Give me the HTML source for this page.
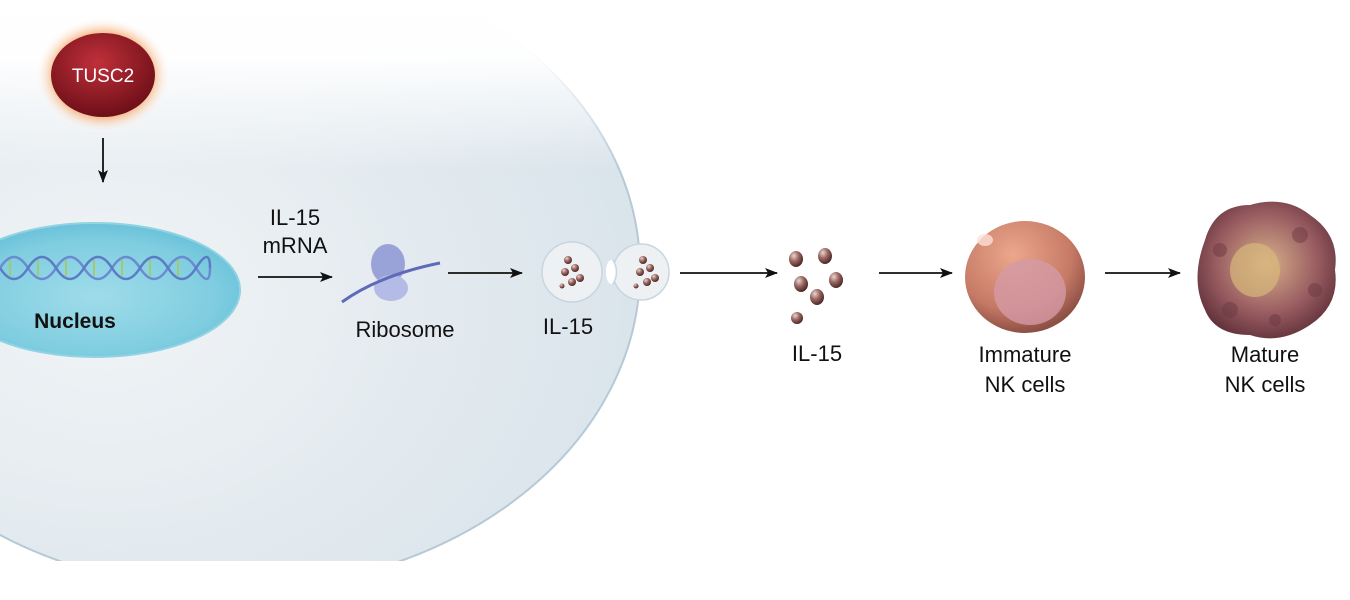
<!DOCTYPE html>
<html><head><meta charset="utf-8"><style>
html,body{margin:0;padding:0;background:#fff;width:1350px;height:600px;overflow:hidden}
svg{display:block}
text{font-family:"Liberation Sans",sans-serif;fill:#111}
</style></head><body>
<svg width="1350" height="600" viewBox="0 0 1350 600" xmlns="http://www.w3.org/2000/svg">
<defs>
<radialGradient id="cellg" cx="0.35" cy="0.55" r="0.7">
<stop offset="0" stop-color="#f1f4f6"/><stop offset="1" stop-color="#d8e3ea"/>
</radialGradient>
<linearGradient id="fade" x1="0" y1="0" x2="0" y2="1">
<stop offset="0" stop-color="#fff" stop-opacity="1"/><stop offset="0.35" stop-color="#fff" stop-opacity="0.95"/><stop offset="1" stop-color="#fff" stop-opacity="0"/>
</linearGradient>
<radialGradient id="nuc" cx="0.5" cy="0.55" r="0.6">
<stop offset="0" stop-color="#9fdcea"/><stop offset="0.7" stop-color="#7fcde0"/><stop offset="1" stop-color="#62bdd6"/>
</radialGradient>
<radialGradient id="glow" cx="0.5" cy="0.5" r="0.5">
<stop offset="0.55" stop-color="#f08a3c"/><stop offset="0.75" stop-color="#f7b07a" stop-opacity="0.7"/><stop offset="1" stop-color="#fff" stop-opacity="0"/>
</radialGradient>
<radialGradient id="tusc" cx="0.45" cy="0.35" r="0.65">
<stop offset="0" stop-color="#c0303a"/><stop offset="1" stop-color="#6e0f18"/>
</radialGradient>
<radialGradient id="imm" cx="0.4" cy="0.3" r="0.7">
<stop offset="0" stop-color="#eba78c"/><stop offset="0.7" stop-color="#c67a66"/><stop offset="1" stop-color="#8e4f45"/>
</radialGradient>
<radialGradient id="mat" cx="0.5" cy="0.45" r="0.6">
<stop offset="0" stop-color="#d8b08a"/><stop offset="0.6" stop-color="#9a5e62"/><stop offset="1" stop-color="#5e2e38"/>
</radialGradient>
<radialGradient id="pt" cx="0.35" cy="0.3" r="0.7">
<stop offset="0" stop-color="#e8d6d2"/><stop offset="0.5" stop-color="#9b6660"/><stop offset="1" stop-color="#4e2a28"/>
</radialGradient>
<marker id="ah" markerWidth="13" markerHeight="10" refX="12" refY="5" orient="auto" markerUnits="userSpaceOnUse">
<path d="M0,0 L13,5 L0,10 L3,5 Z" fill="#111"/>
</marker>
<clipPath id="cut"><rect x="0" y="0" width="1350" height="561"/></clipPath>
</defs>

<g clip-path="url(#cut)">
<ellipse cx="230" cy="270" rx="410" ry="320" fill="url(#cellg)" stroke="#b5c9d6" stroke-width="2"/>
</g>
<rect x="0" y="0" width="660" height="170" fill="url(#fade)"/>

<ellipse cx="103" cy="75" rx="68" ry="58" fill="url(#glow)"/>
<ellipse cx="103" cy="75" rx="52" ry="42" fill="url(#tusc)"/>
<text x="103" y="82" font-size="19" text-anchor="middle" style="fill:#fff">TUSC2</text>
<line x1="103" y1="138" x2="103" y2="182" stroke="#111" stroke-width="1.8" marker-end="url(#ah)"/>

<ellipse cx="95" cy="290" rx="145" ry="67" fill="url(#nuc)" stroke="#8fd3e4" stroke-width="2"/>
<g stroke="#6a8bd0" stroke-width="2.5" fill="none">
<path d="M0,268 q14,-22 28,0 t28,0 t28,0 t28,0 t28,0 t28,0 t28,0 t14,0"/>
<path d="M0,268 q14,22 28,0 t28,0 t28,0 t28,0 t28,0 t28,0 t28,0 t14,0" stroke="#5a7cc4"/>
</g>
<g stroke="#a8c84a" stroke-width="1.5">
<path d="M10,260v16M38,260v16M66,260v16M94,260v16M122,260v16M150,260v16M178,260v16"/>
</g>
<text x="75" y="328" font-size="21" font-weight="bold" text-anchor="middle">Nucleus</text>

<text x="295" y="225" font-size="22" text-anchor="middle">IL-15</text>
<text x="295" y="253" font-size="22" text-anchor="middle">mRNA</text>
<line x1="258" y1="277" x2="332" y2="277" stroke="#111" stroke-width="1.8" marker-end="url(#ah)"/>

<ellipse cx="388" cy="264" rx="17" ry="20" fill="#9aa3d8"/>
<ellipse cx="391" cy="288" rx="17" ry="13" fill="#b3bbe6"/>
<path d="M342,302 Q380,275 440,263" stroke="#5f6bb8" stroke-width="3" fill="none"/>
<text x="405" y="337" font-size="22" text-anchor="middle">Ribosome</text>
<line x1="448" y1="273" x2="522" y2="273" stroke="#111" stroke-width="1.8" marker-end="url(#ah)"/>

<circle cx="572" cy="272" r="30" fill="#eef1f3" stroke="#c8d6df" stroke-width="1.5"/>
<circle cx="641" cy="272" r="28" fill="#eef1f3" stroke="#c8d6df" stroke-width="1.5"/>
<ellipse cx="611" cy="272" rx="5" ry="12" fill="#fff"/>
<path d="M613,260 Q620,272 613,284" fill="none" stroke="#c8d6df" stroke-width="1.5"/>
<g fill="url(#pt)">
<circle cx="568" cy="260" r="4"/><circle cx="575" cy="268" r="4"/><circle cx="565" cy="272" r="4"/>
<circle cx="580" cy="278" r="4"/><circle cx="572" cy="282" r="4"/><circle cx="562" cy="286" r="2.5"/>
<circle cx="643" cy="260" r="4"/><circle cx="650" cy="268" r="4"/><circle cx="640" cy="272" r="4"/>
<circle cx="655" cy="278" r="4"/><circle cx="647" cy="282" r="4"/><circle cx="636" cy="286" r="2.5"/>
</g>
<text x="568" y="334" font-size="22" text-anchor="middle">IL-15</text>
<line x1="680" y1="273" x2="777" y2="273" stroke="#111" stroke-width="1.8" marker-end="url(#ah)"/>

<g fill="url(#pt)">
<ellipse cx="796" cy="259" rx="7" ry="8"/><ellipse cx="825" cy="256" rx="7" ry="8"/>
<ellipse cx="801" cy="284" rx="7" ry="8"/><ellipse cx="836" cy="280" rx="7" ry="8"/>
<ellipse cx="817" cy="297" rx="7" ry="8"/><ellipse cx="797" cy="318" rx="6" ry="6"/>
</g>
<text x="817" y="361" font-size="22" text-anchor="middle">IL-15</text>
<line x1="879" y1="273" x2="952" y2="273" stroke="#111" stroke-width="1.8" marker-end="url(#ah)"/>

<ellipse cx="1025" cy="277" rx="60" ry="56" fill="url(#imm)"/>
<ellipse cx="1030" cy="292" rx="36" ry="33" fill="#d49aa6" opacity="0.8"/>
<ellipse cx="985" cy="240" rx="8" ry="6" fill="#fbe0d8" opacity="0.8"/>
<text x="1025" y="362" font-size="22" text-anchor="middle">Immature</text>
<text x="1025" y="392" font-size="22" text-anchor="middle">NK cells</text>
<line x1="1105" y1="273" x2="1180" y2="273" stroke="#111" stroke-width="1.8" marker-end="url(#ah)"/>

<path d="M1205,240 Q1215,205 1250,205 Q1285,195 1310,215 Q1340,235 1335,270 Q1340,305 1310,325 Q1280,345 1250,335 Q1215,335 1205,310 Q1190,280 1205,240 Z" fill="url(#mat)"/>
<ellipse cx="1255" cy="270" rx="25" ry="27" fill="#d7b87a" opacity="0.7"/>
<g fill="#6b3a42" opacity="0.5">
<circle cx="1220" cy="250" r="7"/><circle cx="1300" cy="235" r="8"/><circle cx="1315" cy="290" r="7"/><circle cx="1230" cy="310" r="8"/><circle cx="1275" cy="320" r="6"/>
</g>
<text x="1265" y="362" font-size="22" text-anchor="middle">Mature</text>
<text x="1265" y="392" font-size="22" text-anchor="middle">NK cells</text>
</svg>
</body></html>
